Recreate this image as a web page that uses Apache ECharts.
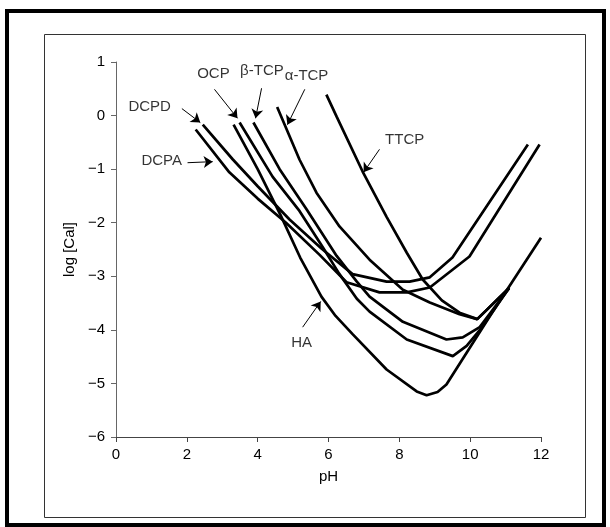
<!DOCTYPE html>
<html lang="en">
<head>
    <meta charset="UTF-8">
    <title>Solubility isotherms</title>
    <script src="https://cdn.jsdelivr.net/npm/echarts@6/dist/echarts.min.js"></script>
    <style>
        html, body {margin: 0; padding: 0; background: #fff;}
        #main {width: 610px; height: 527px;}
    </style>
</head>
<body>
    <div id="main"></div>
    <script>
        // [pH, log[Ca]]
        var dcpd = [[2.45,-0.17],[3.3,-0.82],[4.0,-1.32],[4.9,-1.94],[5.8,-2.48],[6.68,-2.96],[7.64,-3.10],[8.29,-3.10],[8.86,-3.02],[9.5,-2.65],[11.63,-0.54]];
        var dcpa = [[2.25,-0.26],[3.2,-1.06],[4.0,-1.55],[4.8,-2.0],[5.75,-2.6],[6.51,-3.11],[7.44,-3.30],[8.21,-3.30],[8.86,-3.21],[9.98,-2.63],[11.96,-0.54]];
        var ocp = [[3.49,-0.13],[4.42,-1.14],[5.18,-1.78],[5.83,-2.45],[6.3,-2.95],[6.8,-3.42],[7.16,-3.66],[8.21,-4.18],[9.51,-4.49],[9.9,-4.3],[10.3,-3.98],[11.1,-3.22]];
        var btcp = [[3.88,-0.13],[4.62,-1.0],[5.38,-1.75],[6.23,-2.62],[6.8,-3.1],[7.16,-3.38],[8.1,-3.85],[9.33,-4.18],[9.79,-4.14],[10.27,-3.95],[11.1,-3.22]];
        var atcp = [[4.55,0.16],[5.18,-0.82],[5.66,-1.44],[6.31,-2.07],[7.16,-2.69],[8.1,-3.25],[8.86,-3.49],[9.7,-3.71],[10.2,-3.80],[11.1,-3.22]];
        var ttcp = [[5.94,0.39],[6.23,-0.02],[6.96,-1.04],[7.64,-1.89],[8.21,-2.56],[8.66,-3.06],[9.2,-3.45],[9.7,-3.68],[10.2,-3.80],[11.1,-3.22]];
        var ha = [[3.32,-0.17],[4.0,-1.0],[4.64,-1.85],[5.2,-2.65],[5.8,-3.38],[6.2,-3.74],[6.68,-4.08],[7.64,-4.74],[8.49,-5.15],[8.77,-5.22],[9.08,-5.16],[9.33,-5.02],[10.6,-3.7],[12.0,-2.28]];

        // annotation text positions and arrows [from, to]
        var labelNames = ['DCPD', 'DCPA', 'OCP', 'β-TCP', 'α-TCP', 'TTCP', 'HA'];
        var labelPos = [[0.95,0.17],[1.29,-0.84],[2.75,0.77],[4.12,0.84],[5.38,0.75],[8.15,-0.45],[5.24,-4.25]];
        var arrows = [
            [[1.86,0.13],[2.38,-0.13]],
            [[2.02,-0.88],[2.73,-0.86]],
            [[2.78,0.49],[3.43,-0.05]],
            [[4.11,0.51],[3.94,-0.05]],
            [[5.33,0.49],[4.84,-0.17]],
            [[7.44,-0.63],[6.99,-1.06]],
            [[5.27,-3.95],[5.78,-3.47]]
        ];

        var curves = [dcpd, dcpa, ocp, btcp, atcp, ttcp, ha];
        var font = 'Liberation Sans, Arial, sans-serif';

        function minus(v) {
            return String(v).replace('-', '\u2212');
        }

        var series = curves.map(function (c) {
            return {
                type: 'line',
                data: c,
                showSymbol: false,
                symbol: 'none',
                lineStyle: {color: '#000', width: 2.7},
                silent: true
            };
        });

        series.push({
            type: 'scatter',
            symbolSize: 0,
            data: labelPos.map(function (p, i) { return {name: labelNames[i], value: p}; }),
            label: {
                show: true,
                position: 'inside',
                formatter: '{b}',
                color: '#000',
                fontFamily: font,
                fontSize: 15
            },
            silent: true,
            markLine: {
                silent: true,
                symbol: ['none', 'arrow'],
                symbolSize: 9,
                label: {show: false},
                lineStyle: {color: '#000', width: 1, type: 'solid'},
                data: arrows.map(function (a) {
                    return [{coord: a[0]}, {coord: a[1]}];
                })
            }
        });

        var myChart = echarts.init(document.getElementById('main'));
        var option = {
            animation: false,
            backgroundColor: '#fff',
            grid: {left: 116, right: 69, top: 62, bottom: 90},
            xAxis: {
                type: 'value',
                min: 0,
                max: 12,
                interval: 2,
                name: 'pH',
                nameLocation: 'middle',
                nameGap: 32,
                nameTextStyle: {color: '#000', fontFamily: font, fontSize: 15},
                axisLine: {onZero: false, lineStyle: {color: '#444', width: 1}},
                axisTick: {show: true, length: 5, lineStyle: {color: '#444'}},
                axisLabel: {color: '#000', fontFamily: font, fontSize: 15, margin: 10},
                splitLine: {show: false}
            },
            yAxis: {
                type: 'value',
                min: -6,
                max: 1,
                interval: 1,
                name: 'log [Cal]',
                nameLocation: 'middle',
                nameGap: 36,
                nameTextStyle: {color: '#000', fontFamily: font, fontSize: 15},
                axisLine: {show: true, lineStyle: {color: '#666', width: 1}},
                axisTick: {show: true, length: 5, lineStyle: {color: '#666'}},
                axisLabel: {color: '#000', fontFamily: font, fontSize: 15, margin: 11, formatter: minus},
                splitLine: {show: false}
            },
            graphic: [
                {type: 'rect', shape: {x: 7, y: 11, width: 597, height: 514}, style: {fill: 'none', stroke: '#000', lineWidth: 4}},
                {type: 'rect', shape: {x: 44.5, y: 34.5, width: 541, height: 483}, style: {fill: 'none', stroke: '#333', lineWidth: 1}}
            ],
            series: series
        };
        myChart.setOption(option);
    </script>
</body>
</html>
